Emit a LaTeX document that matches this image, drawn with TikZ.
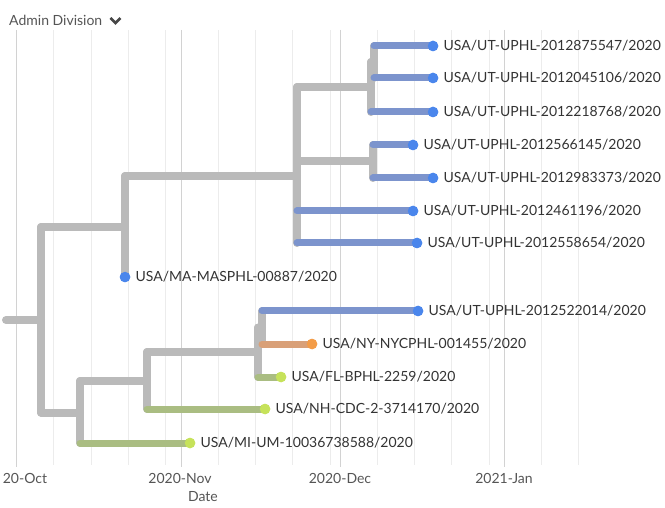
\documentclass[tikz,border=0pt]{standalone}
\usepackage{fontspec}
\setmainfont{Lato}
\usetikzlibrary{positioning}
\definecolor{ink}{HTML}{333333}
\definecolor{ink2}{HTML}{555555}
\definecolor{gridmonth}{HTML}{D2D2D2}
\definecolor{gridweek}{HTML}{ECECEC}
\definecolor{bgray}{HTML}{BABABA}
\definecolor{bblue}{HTML}{7C94CD}
\definecolor{dblue}{HTML}{4A86EC}
\definecolor{borange}{HTML}{D9A078}
\definecolor{dorange}{HTML}{F39C48}
\definecolor{bgreen}{HTML}{AABD82}
\definecolor{dgreen}{HTML}{C6E25A}

\begin{document}
\begin{tikzpicture}[x=1pt, y=-1pt,
  branch/.style={line width=8pt, line cap=round, draw=bgray},
  bluebr/.style={branch, draw=bblue, line width=7pt},
  orangebr/.style={branch, draw=borange, line width=7pt},
  greenbr/.style={branch, draw=bgreen, line width=7pt},
  tipdot/.style={circle, inner sep=0pt, minimum size=10.5pt},
  bluetip/.style={tipdot, fill=dblue},
  orangetip/.style={tipdot, fill=dorange},
  greentip/.style={tipdot, fill=dgreen},
  lab/.style={font=\fontsize{14}{16}\selectfont, text=ink, inner sep=0pt, anchor=west},
  tick/.style={font=\fontsize{14}{16}\selectfont, text=ink2, inner sep=0pt},
]
\useasboundingbox (0,0) rectangle (665,508);

% date grid
\foreach \gx in {53,91,128,165,218,255,292,330,377,414,451,489,541,578}
  \draw[gridweek, line width=0.8pt] (\gx,30) -- (\gx,465);
\foreach \gx in {16,181,340,504}
  \draw[gridmonth, line width=1pt] (\gx,30) -- (\gx,467);

\node[tick, anchor=west] (hdr) at (9,20) {Admin Division};
\draw[ink!90, line width=2.6pt, line join=miter] ([xshift=8pt,yshift=2pt]hdr.east) -- ++(5,5) -- ++(5,-5);

% internal nodes
\coordinate (stub) at (6,320);
\coordinate (root) at (41,320);
\coordinate (up) at (125,227);
\coordinate (nodeA) at (297,176);
\coordinate (nodeB) at (371,87);
\coordinate (nodeB1) at (374,62);
\coordinate (nodeC) at (373,161.5);
\coordinate (low) at (80,412.5);
\coordinate (nodeM) at (147,381);
\coordinate (nodeN) at (258,352);
\coordinate (nodeN1) at (262,327.5);

% tips
\node[bluetip] (ut1) at (433,46) {};
\node[bluetip] (ut2) at (433,78) {};
\node[bluetip] (ut3) at (433,112) {};
\node[bluetip] (ut4) at (413,145) {};
\node[bluetip] (ut5) at (433,178) {};
\node[bluetip] (ut6) at (413,211) {};
\node[bluetip] (ut7) at (417,243) {};
\node[bluetip] (ma) at (125,277) {};
\node[bluetip] (ut8) at (418,311) {};
\node[orangetip] (ny) at (312,344) {};
\node[greentip] (fl) at (281,377) {};
\node[greentip] (nh) at (265,409) {};
\node[greentip] (mi) at (190,443) {};

% verticals
\draw[branch] (root |- up) -- (root |- low);
\draw[branch] (up |- nodeA) -- (up |- ma.center);
\draw[branch] (nodeA |- nodeB) -- (nodeA |- ut7);
\draw[branch] (nodeB |- nodeB1) -- (nodeB |- ut3);
\draw[branch] (nodeB1 |- ut1) -- (nodeB1 |- ut2);
\draw[branch] (nodeC |- ut4) -- (nodeC |- ut5);
\draw[branch] (low |- nodeM) -- (low |- mi);
\draw[branch] (nodeM |- nodeN) -- (nodeM |- nh);
\draw[branch] (nodeN |- nodeN1) -- (nodeN |- fl);
\draw[branch] (nodeN1 |- ut8) -- (nodeN1 |- ny);

% horizontals
\draw[branch] (stub) -- (root);
\draw[branch] (root |- up) -- (up);
\draw[branch] (root |- low) -- (low);
\draw[branch] (up |- nodeA) -- (nodeA);
\draw[branch] (nodeA |- nodeB) -- (nodeB);
\draw[branch] (nodeA |- nodeC) -- (nodeC);
\draw[branch] (nodeB |- nodeB1) -- (nodeB1);
\draw[branch] (low |- nodeM) -- (nodeM);
\draw[branch] (nodeM |- nodeN) -- (nodeN);
\draw[branch] (nodeN |- nodeN1) -- (nodeN1);
\draw[bluebr] (nodeB1 |- ut1) -- (ut1.center);
\draw[bluebr] (nodeB1 |- ut2) -- (ut2.center);
\draw[bluebr] (nodeB |- ut3) -- (ut3.center);
\draw[bluebr] (nodeC |- ut4) -- (ut4.center);
\draw[bluebr] (nodeC |- ut5) -- (ut5.center);
\draw[bluebr] (nodeA |- ut6) -- (ut6.center);
\draw[bluebr] (nodeA |- ut7) -- (ut7.center);
\draw[bluebr] (nodeN1 |- ut8) -- (ut8.center);
\draw[orangebr] (nodeN1 |- ny) -- (ny.center);
\draw[greenbr] (nodeN |- fl) -- (fl.center);
\draw[greenbr] (nodeM |- nh) -- (nh.center);
\draw[greenbr] (low |- mi) -- (mi.center);

% dots on top
\foreach \t/\c in {ut1/dblue,ut2/dblue,ut3/dblue,ut4/dblue,ut5/dblue,ut6/dblue,ut7/dblue,ma/dblue,ut8/dblue,ny/dorange,fl/dgreen,nh/dgreen,mi/dgreen}
  \fill[\c] (\t) circle (5.25pt);

% tip labels
\node[lab, right=5pt of ut1] (lut1) {USA/UT-UPHL-2012875547/2020};
\node[lab, right=5pt of ut2] (lut2) {USA/UT-UPHL-2012045106/2020};
\node[lab, right=5pt of ut3] (lut3) {USA/UT-UPHL-2012218768/2020};
\node[lab, right=5pt of ut4] (lut4) {USA/UT-UPHL-2012566145/2020};
\node[lab, right=5pt of ut5] (lut5) {USA/UT-UPHL-2012983373/2020};
\node[lab, right=5pt of ut6] (lut6) {USA/UT-UPHL-2012461196/2020};
\node[lab, right=5pt of ut7] (lut7) {USA/UT-UPHL-2012558654/2020};
\node[lab, right=5pt of ma] (lma) {USA/MA-MASPHL-00887/2020};
\node[lab, right=5pt of ut8] (lut8) {USA/UT-UPHL-2012522014/2020};
\node[lab, right=5pt of ny] (lny) {USA/NY-NYCPHL-001455/2020};
\node[lab, right=5pt of fl] (lfl) {USA/FL-BPHL-2259/2020};
\node[lab, right=5pt of nh] (lnh) {USA/NH-CDC-2-3714170/2020};
\node[lab, right=5pt of mi] (lmi) {USA/MI-UM-10036738588/2020};

% date axis
\node[tick] (oct) at (25,478) {20-Oct};
\node[tick] (nov) at (180,478) {2020-Nov};
\node[tick] (dec) at (340,478) {2020-Dec};
\node[tick] (jan) at (504,478) {2021-Jan};
\node[tick] (date) at (203,497) {Date};
\end{tikzpicture}
\end{document}
